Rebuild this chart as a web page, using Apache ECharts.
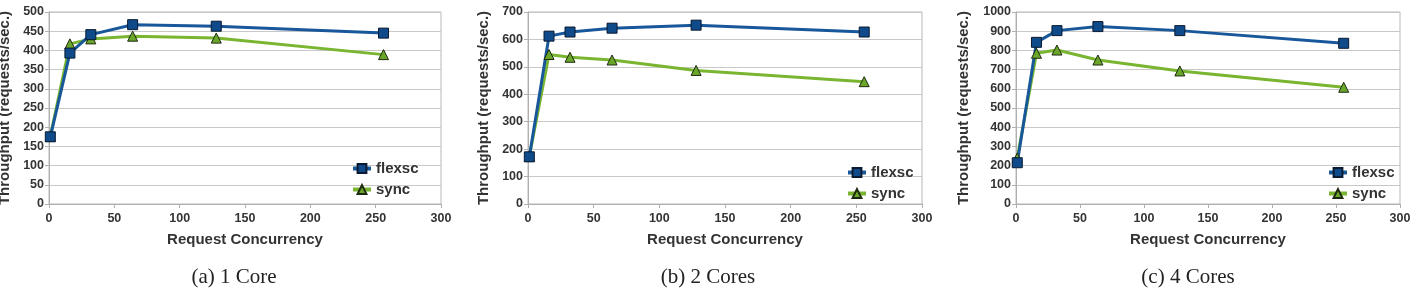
<!DOCTYPE html>
<html>
<head>
<meta charset="utf-8">
<script src="https://cdn.jsdelivr.net/npm/echarts@6/dist/echarts.min.js"></script>
<style>html,body{margin:0;padding:0;background:#fff}#c{width:1417px;height:288px}</style>
</head>
<body>
<div id="c"></div>
<script>
const concurrency = [1, 16, 32, 64, 128, 256];
const flexsc1 = [175, 393, 441, 467, 463, 445];
const sync1   = [176, 417, 430, 437, 432, 389];
const flexsc2 = [172, 612, 627, 641, 652, 627];
const sync2   = [173, 545, 535, 525, 487, 446];
const flexsc4 = [215, 842, 903, 924, 903, 837];
const sync4   = [240, 785, 802, 750, 693, 608];
const captions = ['(a) 1 Core', '(b) 2 Cores', '(c) 4 Cores'];
const yMax = [500, 700, 1000];
const yInterval = [50, 100, 100];
const xTitle = 'Request Concurrency';
const yTitle = 'Throughput (requests/sec.)';

const panels = [
  {flexsc: flexsc1, sync: sync1, left: 49, width: 392, nameGap: 37, legendLeft: 351, legendTop: 161, capX: 229},
  {flexsc: flexsc2, sync: sync2, left: 528, width: 394, nameGap: 37, legendLeft: 846, legendTop: 165, capX: 703},
  {flexsc: flexsc4, sync: sync4, left: 1016, width: 384, nameGap: 45, legendLeft: 1327, legendTop: 165, capX: 1183}
];

const font = 'Liberation Sans, Arial, sans-serif';
const txt = '#333';
const blueLine = '#17579a', blueFill = '#0f4a8a';
const greenLine = '#79b530', greenFill = '#6aa62a';

const grids = [], xAxes = [], yAxes = [], series = [], titles = [];
panels.forEach((p, i) => {
  grids.push({left: p.left, width: p.width, top: 12, height: 192, show: true, borderColor: '#b8b8b8', borderWidth: 1, backgroundColor: 'transparent', outerBoundsMode: 'none', containLabel: false});
  xAxes.push({
    type: 'value', gridIndex: i, min: 0, max: 300, interval: 50,
    name: xTitle, nameLocation: 'middle', nameGap: 28,
    nameTextStyle: {fontFamily: font, fontWeight: 'bold', fontSize: 15, color: txt},
    axisLine: {show: true, lineStyle: {color: '#b0b0b0'}},
    axisTick: {show: true, length: 4, lineStyle: {color: '#b0b0b0'}},
    axisLabel: {fontFamily: font, fontWeight: 'bold', fontSize: 12.5, color: txt, margin: 8},
    splitLine: {show: false}
  });
  yAxes.push({
    type: 'value', gridIndex: i, min: 0, max: yMax[i], interval: yInterval[i],
    name: yTitle, nameLocation: 'middle', nameGap: p.nameGap, nameRotate: 90,
    nameTextStyle: {fontFamily: font, fontWeight: 'bold', fontSize: 15, color: txt},
    axisLine: {show: true, lineStyle: {color: '#b0b0b0'}},
    axisTick: {show: true, length: 4, lineStyle: {color: '#b0b0b0'}},
    axisLabel: {fontFamily: font, fontWeight: 'bold', fontSize: 12.5, color: txt, margin: 5, formatter: v => String(v)},
    splitLine: {show: true, lineStyle: {color: '#c8c8c8', width: 1}}
  });
  series.push({
    name: 'sync', type: 'line', xAxisIndex: i, yAxisIndex: i,
    data: concurrency.map((c, k) => [c, p.sync[k]]),
    symbol: 'triangle', symbolSize: 10,
    lineStyle: {color: greenLine, width: 3},
    itemStyle: {color: greenFill, borderColor: '#1e2a10', borderWidth: 1},
    emphasis: {disabled: true}, animation: false
  });
  series.push({
    name: 'flexsc', type: 'line', xAxisIndex: i, yAxisIndex: i,
    data: concurrency.map((c, k) => [c, p.flexsc[k]]),
    symbol: 'rect', symbolSize: 10,
    lineStyle: {color: blueLine, width: 3},
    itemStyle: {color: blueFill, borderColor: '#0a1a30', borderWidth: 1},
    emphasis: {disabled: true}, animation: false
  });
  titles.push({
    text: captions[i], left: p.capX, top: 262, textAlign: 'center',
    textStyle: {fontFamily: 'Liberation Serif, Times New Roman, serif', fontWeight: 'normal', fontSize: 21, color: '#222'}
  });
});

const legendList = panels.map(p => ({
  orient: 'vertical', left: p.legendLeft, top: p.legendTop, padding: 0,
  data: ['flexsc', 'sync'], itemWidth: 18, itemHeight: 11, itemGap: 6,
  lineStyle: {width: 4},
  textStyle: {fontFamily: font, fontWeight: 'bold', fontSize: 15, color: txt},
  selectedMode: false
}));

const chart = echarts.init(document.getElementById('c'), null, {renderer: 'canvas'});
chart.setOption({
  animation: false,
  title: titles,
  grid: grids,
  xAxis: xAxes,
  yAxis: yAxes,
  legend: legendList,
  series: series
});
</script>
</body>
</html>
